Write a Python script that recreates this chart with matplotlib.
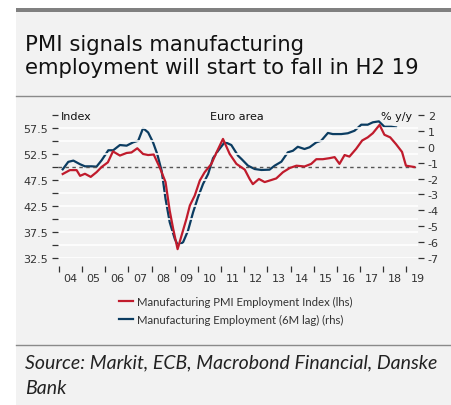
import matplotlib
matplotlib.use("Agg")
import matplotlib.pyplot as plt
from matplotlib.patches import Rectangle
from matplotlib.lines import Line2D
import numpy as np

# ---- data ----
pmi_t = [2004.16, 2004.47, 2004.76, 2004.91, 2005.12, 2005.37, 2005.62, 2005.84, 2006.11, 2006.33,
         2006.63, 2006.92, 2007.13, 2007.38, 2007.63, 2007.85, 2008.09, 2008.35, 2008.60, 2008.78,
         2008.93, 2009.12, 2009.29, 2009.50, 2009.65, 2009.86, 2010.08, 2010.29, 2010.58, 2010.80,
         2011.08, 2011.37, 2011.66, 2012.02, 2012.23, 2012.37, 2012.63, 2012.88, 2013.17, 2013.38,
         2013.67, 2013.96, 2014.25, 2014.60, 2014.89, 2015.11, 2015.39, 2015.68, 2015.90, 2016.11,
         2016.33, 2016.54, 2016.83, 2017.09, 2017.33, 2017.55, 2017.84, 2018.05, 2018.30, 2018.55,
         2018.81, 2018.98, 2019.20, 2019.34]
pmi_v = [48.65, 49.4, 49.4, 48.3, 48.7, 48.1, 49.0, 50.0, 50.9, 53.0,
         52.2, 52.7, 52.8, 53.6, 52.5, 52.3, 52.4, 49.9, 47.1, 41.6,
         38.1, 34.2, 36.8, 40.0, 42.6, 44.5, 47.4, 49.0, 50.6, 52.8,
         55.4, 52.5, 50.6, 49.5, 47.7, 46.7, 47.7, 47.1, 47.5, 47.8,
         49.0, 49.8, 50.25, 50.1, 50.6, 51.5, 51.5, 51.7, 51.9, 50.6,
         52.3, 52.0, 53.5, 55.1, 55.7, 56.5, 58.1, 56.2, 55.7, 54.4,
         52.9, 50.25, 50.1, 50.0]

emp_t = [2004.16, 2004.40, 2004.62, 2004.91, 2005.12, 2005.41, 2005.62, 2005.84, 2006.13, 2006.34,
         2006.63, 2006.92, 2007.20, 2007.42, 2007.63, 2007.85, 2008.06, 2008.24, 2008.43, 2008.60,
         2008.78, 2009.00, 2009.14, 2009.36, 2009.57, 2009.79, 2010.00, 2010.22, 2010.44, 2010.65,
         2010.87, 2011.16, 2011.44, 2011.73, 2011.88, 2012.16, 2012.45, 2012.74, 2013.09, 2013.31,
         2013.60, 2013.88, 2014.10, 2014.31, 2014.60, 2014.82, 2015.11, 2015.32, 2015.61, 2015.82,
         2016.19, 2016.47, 2016.76, 2017.05, 2017.33, 2017.55, 2017.81, 2018.05, 2018.34, 2018.55]
emp_v = [-1.42, -0.95, -0.87, -1.10, -1.23, -1.23, -1.25, -0.85, -0.22, -0.22,
         0.11, 0.07, 0.28, 0.38, 1.17, 0.9, 0.28, -0.45, -1.5, -3.28,
         -4.75, -5.8, -6.22, -6.0, -5.28, -4.12, -3.18, -2.34, -1.71, -0.72,
         -0.25, 0.30, 0.11, -0.56, -0.77, -1.19, -1.40, -1.46, -1.44, -1.19,
         -0.94, -0.35, -0.25, 0.00, -0.14, -0.03, 0.28, 0.38, 0.87, 0.80,
         0.80, 0.85, 1.01, 1.39, 1.39, 1.54, 1.60, 1.26, 1.26, 1.22]

left_ticks = [32.5, 35, 37.5, 40, 42.5, 45, 47.5, 50, 52.5, 55, 57.5, 60]
left_labels = ["32.5", "", "37.5", "", "42.5", "", "47.5", "", "52.5", "", "57.5", ""]
right_ticks = [-7, -6, -5, -4, -3, -2, -1, 0, 1, 2]
right_labels = ["-7", "-6", "-5", "-4", "-3", "-2", "-1", "0", "1", "2"]
years = list(range(2004, 2020))
year_labels = ["%02d" % (y % 100) for y in years]

title1 = "PMI signals manufacturing"
title2 = "employment will start to fall in H2 19"
source1 = "Source: Markit, ECB, Macrobond Financial, Danske"
source2 = "Bank"
leg1 = "Manufacturing PMI Employment Index (lhs)"
leg2 = "Manufacturing Employment (6M lag) (rhs)"

RED = "#c01b2c"
BLUE = "#0b3c61"
BG = "#f2f2f2"
TXT = "#333333"

W, H = 452, 406
fig = plt.figure(figsize=(W / 100, H / 100), dpi=100)
fig.patch.set_facecolor("white")

def fx(px):
    return px / W

def fy(py):
    return 1 - py / H

fig.add_artist(Rectangle((fx(16), 0), 1 - fx(16), fy(13), transform=fig.transFigure,
                         facecolor=BG, edgecolor="none", zorder=0))
fig.add_artist(Rectangle((fx(16), fy(13)), 1 - fx(16), fy(9) - fy(13), transform=fig.transFigure,
                         facecolor="#808080", edgecolor="none", zorder=1))
fig.add_artist(Line2D([fx(16), 1], [fy(97), fy(97)], transform=fig.transFigure,
                      color="#8a8a8a", lw=1.0))
fig.add_artist(Line2D([fx(16), 1], [fy(346), fy(346)], transform=fig.transFigure,
                      color="#8a8a8a", lw=1.0))

fig.text(fx(25), fy(51), title1, fontsize=15.2, family="DejaVu Sans", color="#111111", va="baseline")
fig.text(fx(25), fy(74), title2, fontsize=15.2, family="DejaVu Sans", color="#111111", va="baseline")
fig.text(fx(25), fy(368), source1, fontsize=14, family="Lato", style="italic", color="#222222", va="baseline")
fig.text(fx(25), fy(394), source2, fontsize=14, family="Lato", style="italic", color="#222222", va="baseline")

ax_l, ax_r, ax_t, ax_b = 58, 418, 116, 259
ax = fig.add_axes([fx(ax_l), fy(ax_b), fx(ax_r - ax_l), fy(ax_t) - fy(ax_b)])
ax.set_facecolor(BG)
x0 = 2004 + (ax_l - 59) / 23.2
x1 = 2004 + (ax_r - 59) / 23.2
ax.set_xlim(x0, x1)
ax.set_ylim(32.5, 60)
for s in ax.spines.values():
    s.set_visible(False)

for v in left_ticks[:-1]:
    if v == 50:
        continue
    ax.axhline(v, color="white", lw=1.2, zorder=1)
ax.axhline(50, color="#555555", lw=1.0, ls=(0, (2.5, 2.5)), zorder=2)

ax.set_yticks(left_ticks)
ax.set_yticklabels(left_labels)
ax.tick_params(axis="y", which="major", direction="out", length=4, width=0.9, color=TXT,
               labelsize=8, labelcolor=TXT, pad=3)

ax.spines["bottom"].set_position(("outward", 6))
ax.set_xticks(years)
ax.set_xticklabels([])
ax.set_xticks([y + 0.5 for y in years], minor=True)
ax.set_xticklabels(year_labels, minor=True)
ax.tick_params(axis="x", which="major", direction="out", length=4, width=0.9, color=TXT)
ax.tick_params(axis="x", which="minor", length=0, labelsize=8, labelcolor=TXT, pad=5)

ax2 = ax.twinx()
ax2.set_ylim(-7, 2)
for s in ax2.spines.values():
    s.set_visible(False)
ax2.set_yticks(right_ticks)
ax2.set_yticklabels(right_labels)
ax2.tick_params(axis="y", direction="out", length=4, width=0.9, color=TXT,
                labelsize=8, labelcolor=TXT, pad=3)

ax.plot(pmi_t, pmi_v, color=RED, lw=1.6, zorder=4, solid_joinstyle="round")
ax2.plot(emp_t, emp_v, color=BLUE, lw=1.6, zorder=3, solid_joinstyle="round")
ax.set_zorder(ax2.get_zorder() + 1)
ax.patch.set_visible(False)
ax2.patch.set_visible(False)

ax.text(fx(61), fy(117), "Index", transform=fig.transFigure, fontsize=8, color="#111111", va="center", ha="left")
ax.text(fx(237), fy(117), "Euro area", transform=fig.transFigure, fontsize=8, color="#111111", va="center", ha="center")
ax.text(fx(412), fy(117), "% y/y", transform=fig.transFigure, fontsize=8, color="#111111", va="center", ha="right")

handles = [Line2D([], [], color=RED, lw=1.6), Line2D([], [], color=BLUE, lw=1.6)]
fig.legend(handles, [leg1, leg2], loc="center left", bbox_to_anchor=(fx(119), fy(311.5)),
           frameon=False, prop={"family": "Lato", "size": 8.2}, labelcolor=TXT,
           handlelength=1.25, handletextpad=0.35,
           labelspacing=0.6, borderpad=0, borderaxespad=0)

fig.savefig("out.png", dpi=100, facecolor="white")
